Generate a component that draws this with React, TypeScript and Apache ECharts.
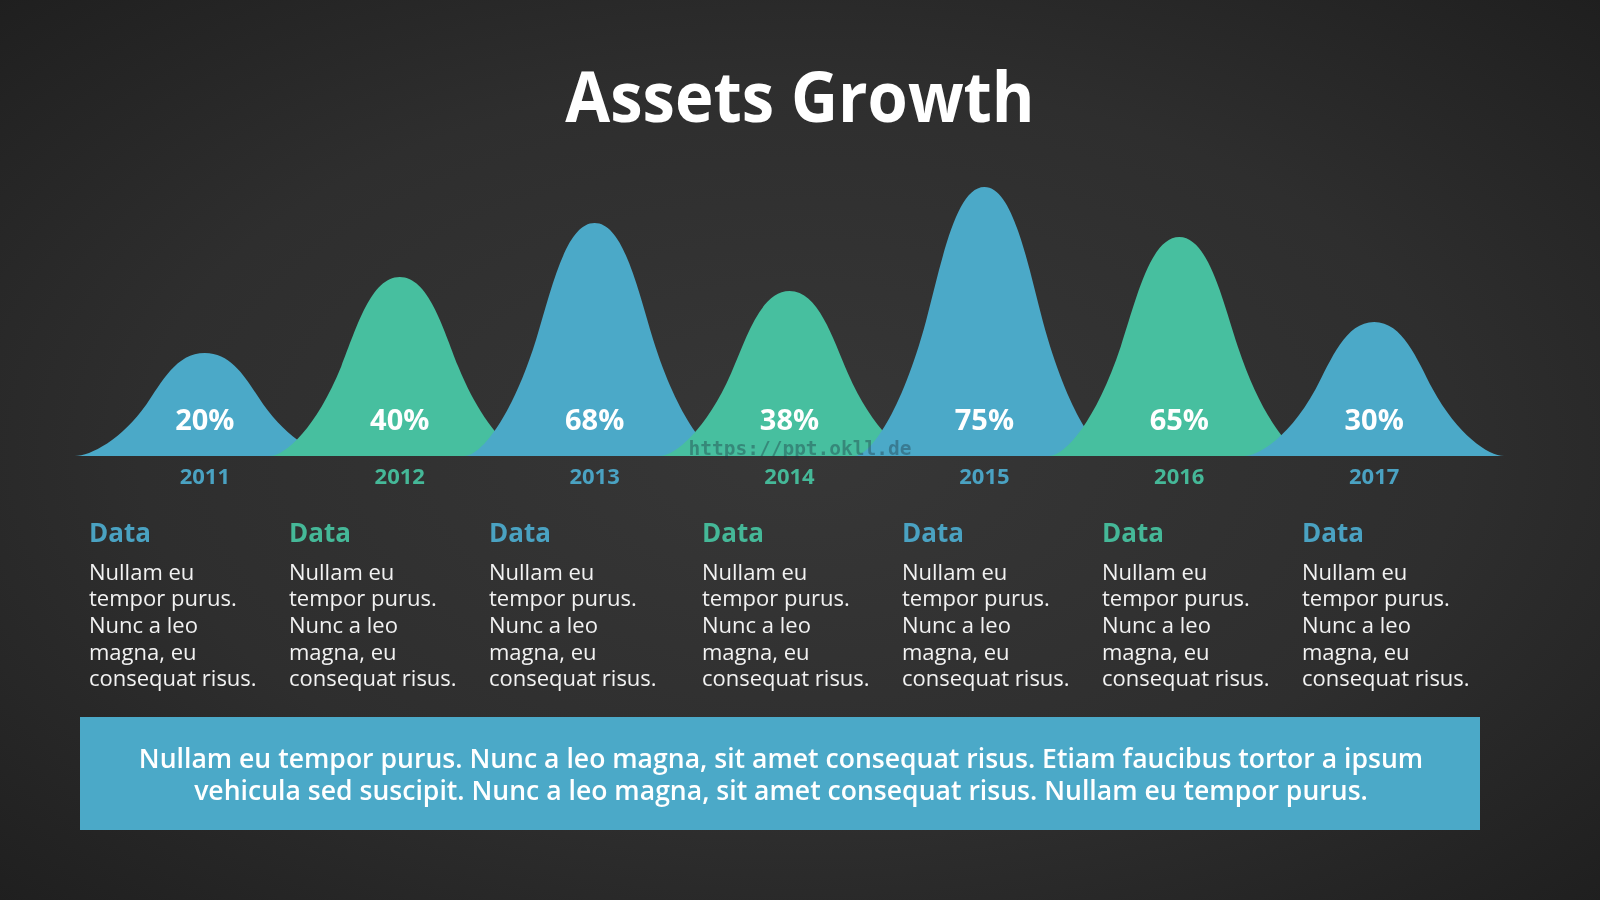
import React, { useEffect, useRef } from "react";
import * as echarts from "echarts";

// ---- data ----
const years = ["2011", "2012", "2013", "2014", "2015", "2016", "2017"];
const growthPct = [20, 40, 68, 38, 75, 65, 30];
const peakHeights = [103, 179, 233, 165, 269, 219, 134];
const headings = ["Data", "Data", "Data", "Data", "Data", "Data", "Data"];
const bodyLines = ["Nullam eu", "tempor purus.", "Nunc a leo", "magna, eu", "consequat risus."];
const bannerLines = [
  "Nullam eu tempor purus. Nunc a leo magna, sit amet consequat risus. Etiam faucibus tortor a ipsum",
  "vehicula sed suscipit. Nunc a leo magna, sit amet consequat risus. Nullam eu tempor purus.",
];
const titleText = "Assets Growth";
const watermark = "https://ppt.okll.de";

// ---- styles / layout ----
const BLUE = "#4BA9C8";
const GREEN = "#47BF9F";
const BLUE_TXT = "#4AA2C2";
const GREEN_TXT = "#45B898";
const FONT = '"Open Sans", "Noto Sans", sans-serif';
const columnLeft = [89, 289, 489, 702, 902, 1102, 1302];
const BODY_FIRST_Y = 570.5;
const BODY_LINE_H = 26.7;

const colorOf = (i: number) => (i % 2 === 0 ? BLUE : GREEN);
const txtColorOf = (i: number) => (i % 2 === 0 ? BLUE_TXT : GREEN_TXT);

export default function App() {
  const ref = useRef<HTMLDivElement>(null);

  useEffect(() => {
    if (!ref.current) return;
    const chart = echarts.init(ref.current, null, { renderer: "svg", width: 1600, height: 900 });

    const seriesData = years.map((_, i) => [i, peakHeights[i], growthPct[i]]);

    const renderItem = (params: any, api: any) => {
      const i = api.value(0);
      const h = api.value(1);
      const pct = api.value(2);
      const top = api.coord([i, h]);
      const base = api.coord([i, 0]);
      const band = api.size([1, 0])[0];
      const W = band * 0.667;
      const H = base[1] - top[1];
      const cx = top[0];
      const by = base[1];
      const X = (u: number) => (cx + u * W).toFixed(2);
      const Y = (v: number) => (by - v * H).toFixed(2);
      const d =
        `M${X(-1)} ${Y(0)} ` +
        `C${X(-0.88)} ${Y(0)} ${X(-0.64)} ${Y(0.16)} ${X(-0.45)} ${Y(0.5)} ` +
        `C${X(-0.33)} ${Y(0.72)} ${X(-0.22)} ${Y(1)} ${X(0)} ${Y(1)} ` +
        `C${X(0.22)} ${Y(1)} ${X(0.33)} ${Y(0.72)} ${X(0.45)} ${Y(0.5)} ` +
        `C${X(0.64)} ${Y(0.16)} ${X(0.88)} ${Y(0)} ${X(1)} ${Y(0)} Z`;
      return {
        type: "group",
        children: [
          {
            type: "path",
            shape: { pathData: d },
            style: { fill: colorOf(i) },
          },
          {
            type: "text",
            x: cx,
            y: by - 38,
            style: {
              text: pct + "%",
              fill: "#ffffff",
              fontSize: 29,
              fontWeight: "bold",
              fontFamily: FONT,
              align: "center",
              verticalAlign: "middle",
              textAlign: "center",
              textVerticalAlign: "middle",
            },
          },
        ],
      };
    };

    const graphics: any[] = [];
    // title
    graphics.push({
      type: "text",
      x: 800,
      y: 95,
      originX: 0,
      originY: 0,
      scaleX: 0.93,
      style: {
        text: titleText,
        fill: "#ffffff",
        fontSize: 70,
        fontWeight: "bold",
        fontFamily: FONT,
        align: "center",
        verticalAlign: "middle",
        textAlign: "center",
        textVerticalAlign: "middle",
      },
    });
    // columns
    headings.forEach((hd, i) => {
      graphics.push({
        type: "text",
        x: columnLeft[i],
        y: 532,
        style: {
          text: hd,
          fill: txtColorOf(i),
          fontSize: 26,
          fontWeight: "bold",
          fontFamily: FONT,
          align: "left",
          verticalAlign: "middle",
          textAlign: "left",
          textVerticalAlign: "middle",
        },
      });
      bodyLines.forEach((line, k) => {
        graphics.push({
          type: "text",
          x: columnLeft[i],
          y: BODY_FIRST_Y + k * BODY_LINE_H,
          style: {
            text: line,
            fill: "#F2F2F2",
            fontSize: 22,
            fontFamily: FONT,
            align: "left",
            verticalAlign: "middle",
            textAlign: "left",
            textVerticalAlign: "middle",
          },
        });
      });
    });
    // banner
    graphics.push({
      type: "rect",
      shape: { x: 80, y: 717, width: 1400, height: 113 },
      style: { fill: BLUE },
    });
    bannerLines.forEach((line, k) => {
      graphics.push({
        type: "text",
        x: 781,
        y: 757.5 + k * 32,
        originX: 0,
        originY: 0,
        scaleX: 0.985,
        style: {
          text: line,
          fill: "#ffffff",
          fontSize: 27,
          fontWeight: 600,
          fontFamily: FONT,
          align: "center",
          verticalAlign: "middle",
          textAlign: "center",
          textVerticalAlign: "middle",
        },
      });
    });
    // watermark
    graphics.push({
      type: "text",
      x: 800,
      y: 448,
      z: 100,
      style: {
        text: watermark,
        fill: "rgba(30,55,65,0.4)",
        fontSize: 19.5,
        fontWeight: "bold",
        fontFamily: '"DejaVu Sans Mono", monospace',
        align: "center",
        verticalAlign: "middle",
        textAlign: "center",
        textVerticalAlign: "middle",
      },
    });

    chart.setOption({
      animation: false,
      backgroundColor: "transparent",
      grid: { left: 107.4, right: 128.4, top: 156, height: 300, containLabel: false },
      xAxis: {
        type: "category",
        data: years,
        boundaryGap: true,
        axisLine: { show: false },
        axisTick: { show: false },
        splitLine: { show: false },
        axisLabel: {
          margin: 8,
          fontSize: 22,
          fontWeight: "bold",
          fontFamily: FONT,
          color: (_v: any, idx: number) => txtColorOf(idx),
        },
      },
      yAxis: {
        type: "value",
        min: 0,
        max: 300,
        show: false,
        splitLine: { show: false },
      },
      series: [
        {
          type: "custom",
          renderItem,
          data: seriesData,
          encode: { x: 0, y: 1 },
          clip: false,
          z: 2,
        },
      ],
      graphic: graphics,
    });

    return () => chart.dispose();
  }, []);

  return (
    <div
      style={{
        position: "fixed",
        left: 0,
        top: 0,
        width: 1600,
        height: 900,
        background:
          "radial-gradient(ellipse 75% 75% at 50% 50%, #373737 0%, #2e2e2e 55%, #1d1d1d 100%)",
      }}
    >
      <div ref={ref} style={{ width: 1600, height: 900 }} />
    </div>
  );
}
